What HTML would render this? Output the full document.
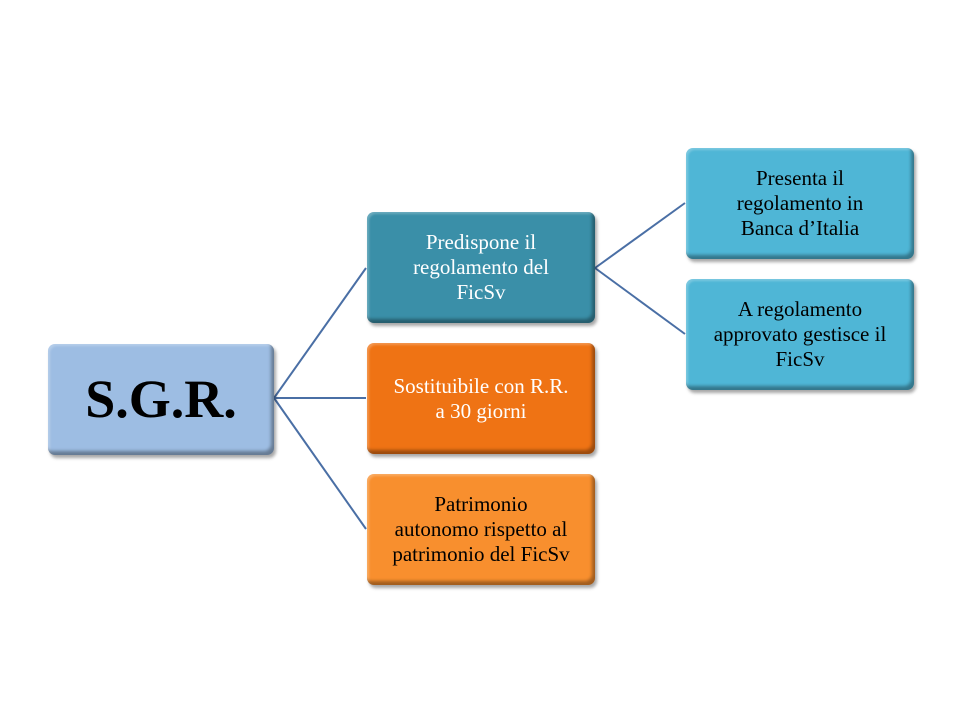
<!DOCTYPE html>
<html><head><meta charset="utf-8"><style>
body{margin:0;width:960px;height:720px;background:#fff;position:relative;overflow:hidden;font-family:"Liberation Serif",serif;}
.b{position:absolute;width:224px;height:108px;border-radius:7px;display:flex;align-items:center;justify-content:center;text-align:center;font-size:21px;line-height:25px;box-sizing:border-box;padding:0 4px;
box-shadow:2px 3px 3px rgba(0,0,0,0.35), inset -3px -4px 3px rgba(0,0,0,0.35), inset 2px 2px 2px rgba(255,255,255,0.25);}
svg{position:absolute;left:0;top:0}
</style></head><body>
<svg width="960" height="720"><g stroke="#4a6fa5" stroke-width="2" fill="none">
<path d="M274 398 L366 268"/><path d="M274 398 L366 398"/><path d="M274 398 L366 529"/>
<path d="M595 268 L685 203"/><path d="M595 268 L685 334"/></g></svg>
<div class="b" style="left:48px;top:344px;width:226px;height:111px;background:#9dbde3;color:#000;font-weight:bold;font-size:54px;">S.G.R.</div>
<div class="b" style="left:367px;top:212px;width:228px;height:111px;background:#3a8fa8;color:#fff;">Predispone il<br>regolamento del<br>FicSv</div>
<div class="b" style="left:367px;top:343px;width:228px;height:111px;background:#ef7314;color:#fff;">Sostituibile con R.R.<br>a 30 giorni</div>
<div class="b" style="left:367px;top:474px;width:228px;height:111px;background:#f88f2e;color:#000;">Patrimonio<br>autonomo rispetto al<br>patrimonio del FicSv</div>
<div class="b" style="left:686px;top:148px;width:228px;height:111px;background:#4fb6d6;color:#000;">Presenta il<br>regolamento in<br>Banca d’Italia</div>
<div class="b" style="left:686px;top:279px;width:228px;height:111px;background:#4fb6d6;color:#000;">A regolamento<br>approvato gestisce il<br>FicSv</div>
</body></html>
